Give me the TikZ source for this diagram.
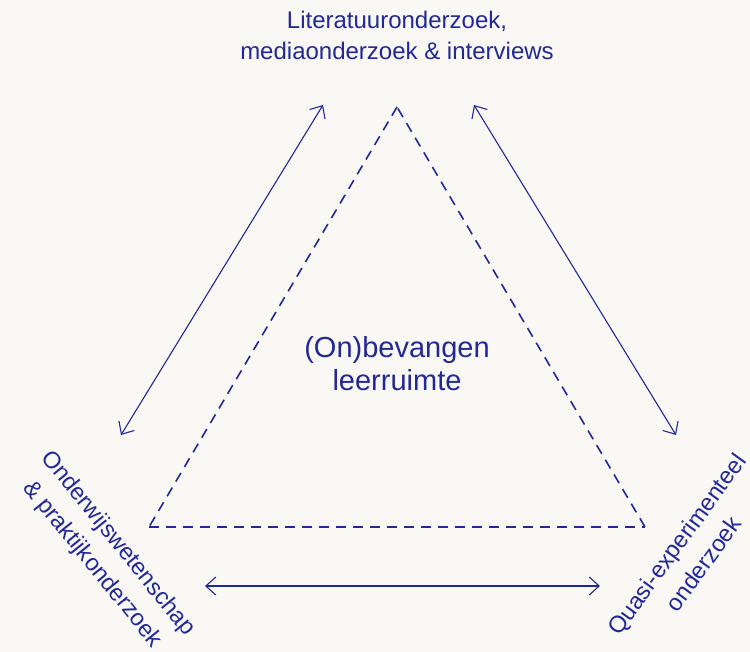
\documentclass[tikz,border=0pt]{standalone}
\usepackage{fontspec}
\setmainfont{Liberation Sans}
\usetikzlibrary{arrows.meta}
\definecolor{inkblue}{RGB}{34,40,150}
\definecolor{paper}{RGB}{249,248,244}
\begin{document}
\begin{tikzpicture}[x=1pt,y=-1pt,
  label/.style={text=inkblue,align=center,inner sep=0pt,font=\fontsize{24}{31}\selectfont},
  slanted/.style={label,font=\fontsize{23.5}{33}\selectfont},
  centre/.style={text=inkblue,align=center,inner sep=0pt,font=\fontsize{29}{33}\selectfont},
  link/.style={draw=inkblue,line width=1.1pt,{Straight Barb[length=10pt,width=18pt]}-{Straight Barb[length=10pt,width=18pt]}},
  side/.style={draw=inkblue,line width=1.6pt,dash pattern=on 10pt off 7pt}]
\fill[paper] (0,0) rectangle (750,652);
\useasboundingbox (0,0) rectangle (750,652);

% corners of the dashed triangle
\coordinate (t) at (397,107);
\coordinate (l) at (149,527);
\coordinate (r) at (645,527);
\draw[side] (t) -- (l);
\draw[side] (l) -- (r);
\draw[side] (r) -- (t);

% labels
\node[label] (top) at (397,35) {Literatuuronderzoek,\\mediaonderzoek \& interviews};
\node[slanted,rotate=-51] (left) at (105,554) {Onderwijswetenschap\\\& praktijkonderzoek};
\node[slanted,rotate=54] (right) at (690,554) {Quasi-experimenteel\\onderzoek};
\node[centre] (mid) at (397,364) {(On)bevangen\\leerruimte};

% arrow end points
\coordinate (a1) at (323,105);
\coordinate (a2) at (121,435);
\coordinate (b1) at (474,105);
\coordinate (b2) at (676,435);
\coordinate (c1) at (205,586);
\coordinate (c2) at (600,586);
\draw[link] (a1) -- (a2);
\draw[link] (b1) -- (b2);
\draw[link] (c1) -- (c2);
\end{tikzpicture}
\end{document}
